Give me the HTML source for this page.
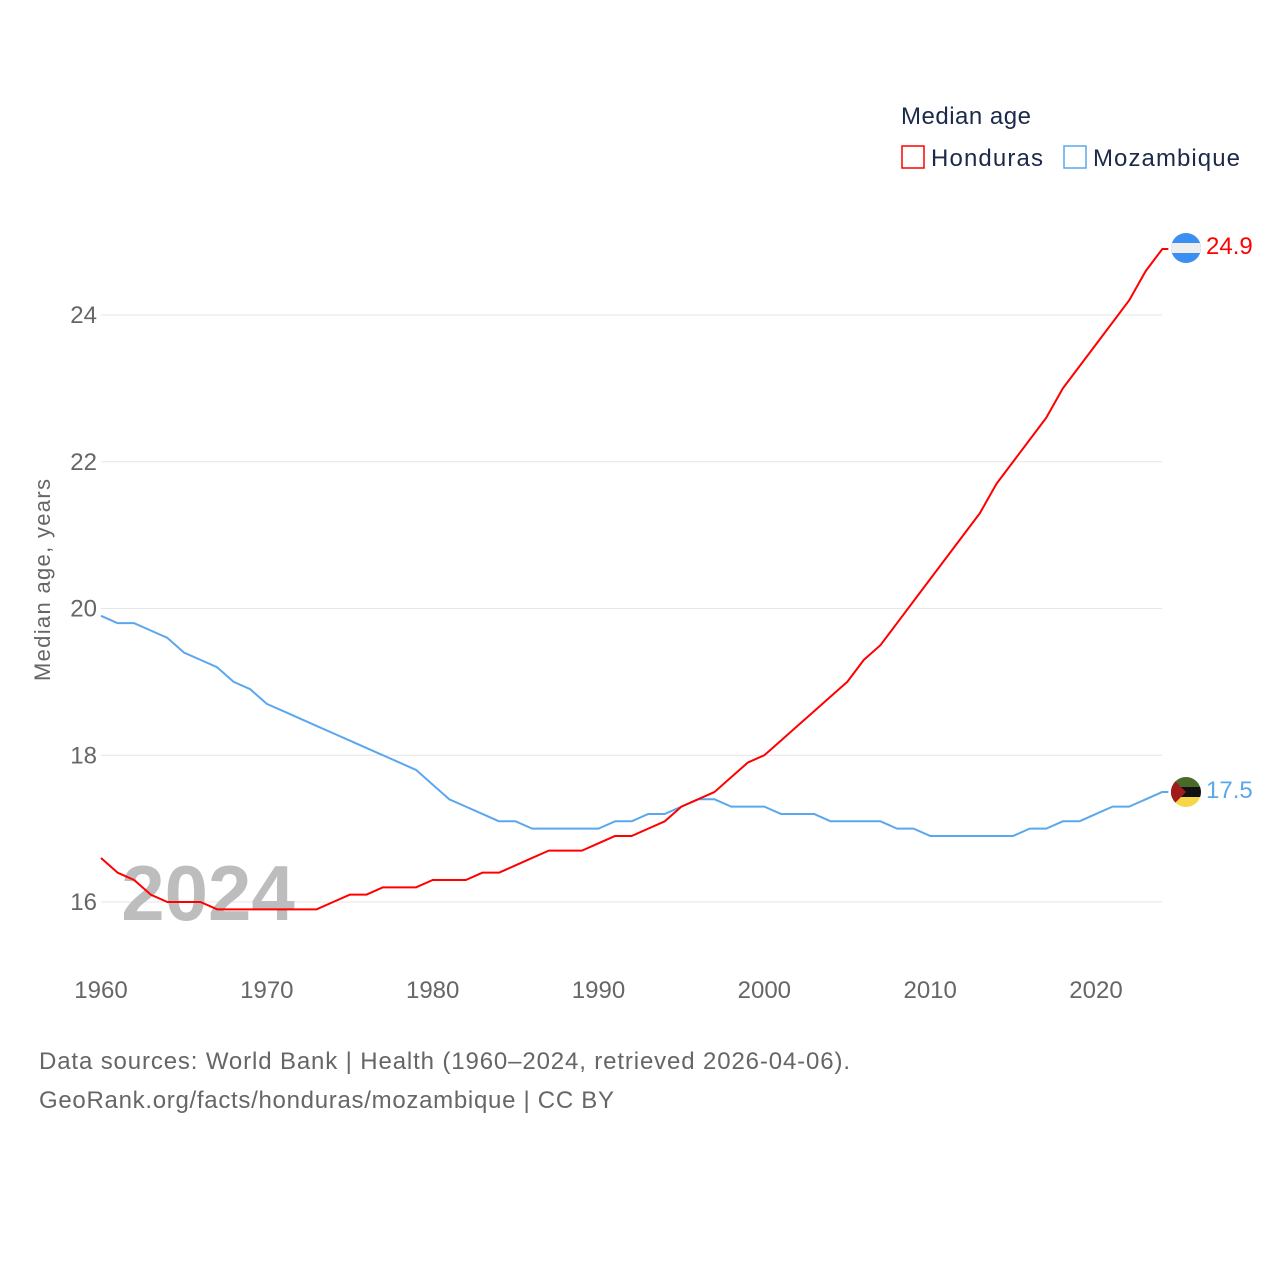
<!DOCTYPE html>
<html><head><meta charset="utf-8"><style>
body{margin:0;background:#fff;width:1280px;height:1280px;overflow:hidden;font-family:"Liberation Sans",sans-serif}
svg text{font-family:"Liberation Sans",sans-serif}
</style></head><body>
<svg id="chart" width="1280" height="1280">
<g id="grid"></g>
<g id="yticks"></g>
<g id="xticks"></g>
<text x="208" y="920" font-size="78" font-weight="bold" fill="#bdbdbd" text-anchor="middle">2024</text>
<text transform="translate(50,580) rotate(-90)" font-size="22" fill="#666" text-anchor="middle" textLength="202">Median age, years</text>
<g id="lines"></g>
<g>
<text x="901" y="124" font-size="24" fill="#1b2a4a" textLength="130">Median age</text>
<g><rect x="902" y="146" width="22" height="22" fill="none" stroke="#f00" stroke-width="1.5"/><text x="931" y="166" font-size="24" fill="#1b2a4a" textLength="112">Honduras</text></g>
<g><rect x="1064" y="146" width="22" height="22" fill="none" stroke="#5ba7ee" stroke-width="1.5"/><text x="1093" y="166" font-size="24" fill="#1b2a4a" textLength="147">Mozambique</text></g>
</g>
<g>
<clipPath id="c1"><circle cx="1186" cy="248" r="15"/></clipPath>
<g clip-path="url(#c1)"><rect x="1171" y="233" width="30" height="30" fill="#3b8ff0"/><rect x="1171" y="243" width="30" height="10" fill="#eee"/></g></g>
<g>
<clipPath id="c2"><circle cx="1186" cy="792" r="15"/></clipPath>
<g clip-path="url(#c2)"><rect x="1171" y="777" width="30" height="10" fill="#4a6a2a"/><rect x="1171" y="787" width="30" height="10" fill="#111"/><rect x="1171" y="797" width="30" height="10" fill="#f7d64a"/><polygon points="1171,777 1186,792 1171,807" fill="#a01c1c"/></g></g>
<text x="1206" y="254" font-size="24" fill="#f00">24.9</text>
<text x="1206" y="798" font-size="24" fill="#5ba7ee">17.5</text>
<text x="39" y="1069" font-size="24" fill="#666" textLength="811">Data sources: World Bank | Health (1960–2024, retrieved 2026-04-06).</text>
<text x="39" y="1108" font-size="24" fill="#666" textLength="575">GeoRank.org/facts/honduras/mozambique | CC BY</text>
</svg>
<script>
const years=[];for(let y=1960;y<=2024;y++)years.push(y);
const honduras=[16.6,16.4,16.3,16.1,16.0,16.0,16.0,15.9,15.9,15.9,15.9,15.9,15.9,15.9,16.0,16.1,16.1,16.2,16.2,16.2,16.3,16.3,16.3,16.4,16.4,16.5,16.6,16.7,16.7,16.7,16.8,16.9,16.9,17.0,17.1,17.3,17.4,17.5,17.7,17.9,18.0,18.2,18.4,18.6,18.8,19.0,19.3,19.5,19.8,20.1,20.4,20.7,21.0,21.3,21.7,22.0,22.3,22.6,23.0,23.3,23.6,23.9,24.2,24.6,24.9];
const mozambique=[19.9,19.8,19.8,19.7,19.6,19.4,19.3,19.2,19.0,18.9,18.7,18.6,18.5,18.4,18.3,18.2,18.1,18.0,17.9,17.8,17.6,17.4,17.3,17.2,17.1,17.1,17.0,17.0,17.0,17.0,17.0,17.1,17.1,17.2,17.2,17.3,17.4,17.4,17.3,17.3,17.3,17.2,17.2,17.2,17.1,17.1,17.1,17.1,17.0,17.0,16.9,16.9,16.9,16.9,16.9,16.9,17.0,17.0,17.1,17.1,17.2,17.3,17.3,17.4,17.5];
const yTicks=[16,18,20,22,24];
const xTicks=[1960,1970,1980,1990,2000,2010,2020];
const NS="http://www.w3.org/2000/svg";
const xs=y=>101+(y-1960)*(1096-101)/60;
const ys=v=>902-(v-16)*(902-315)/8;
function mk(t,a,p){const e=document.createElementNS(NS,t);for(const k in a)e.setAttribute(k,a[k]);p.appendChild(e);return e;}
const grid=document.getElementById('grid'),yt=document.getElementById('yticks'),xt=document.getElementById('xticks'),ln=document.getElementById('lines');
yTicks.forEach(v=>{
 const l=mk('line',{x1:101,x2:1162,y1:ys(v),y2:ys(v),stroke:'#e6e6e6','stroke-width':1},grid);
 
 
 const t=mk('text',{x:97,y:ys(v)+8,'font-size':24,fill:'#666','text-anchor':'end'},yt);
 t.textContent=v;
 
 
});
xTicks.forEach(v=>{
 const t=mk('text',{x:xs(v),y:998,'font-size':24,fill:'#666','text-anchor':'middle'},xt);
 t.textContent=v;
 
 
});
function line(d,c,n){
 const p=mk('polyline',{points:d.map((v,i)=>xs(years[i])+','+ys(v)).join(' ')+' '+(xs(2024)+6)+','+ys(d[d.length-1]),fill:'none',stroke:c,'stroke-width':2,'stroke-linejoin':'round'},ln);
 
 
}
line(mozambique,'#5ba7ee','mozambique-line');
line(honduras,'#f00','honduras-line');
</script>
</body></html>
